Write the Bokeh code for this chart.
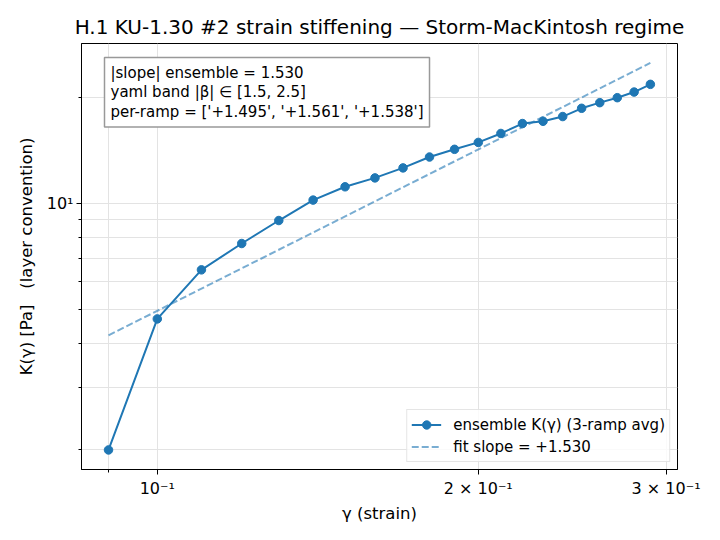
from bokeh.plotting import figure
from bokeh.models import FixedTicker, Label, Legend, LegendItem, Range1d
from bokeh.embed import file_html
from bokeh.resources import INLINE

strain = [0.09, 0.10, 0.11, 0.12, 0.13, 0.14, 0.15, 0.16, 0.17, 0.18, 0.19,
          0.20, 0.21, 0.22, 0.23, 0.24, 0.25, 0.26, 0.27, 0.28, 0.29]
K = [2.00, 4.71, 6.49, 7.71, 8.96, 10.24, 11.17, 11.84, 12.64, 13.57, 14.27,
     14.93, 15.83, 16.89, 17.14, 17.68, 18.66, 19.36, 20.00, 20.75, 21.82]
fit_x = [0.09, 0.29]
fit_y = [4.23, 25.1]

x_major = [0.1, 0.2, 0.3]
x_minor = [0.09]
x_labels = {0.1: "10⁻¹", 0.2: "2 × 10⁻¹", 0.3: "3 × 10⁻¹"}
y_major = [10]
y_minor = [2, 3, 4, 5, 6, 7, 8, 9, 20]
y_labels = {10: "10¹"}

title = "H.1 KU-1.30 #2 strain stiffening — Storm-MacKintosh regime"
note = ("|slope| ensemble = 1.530\n"
        "yaml band |β| ∈ [1.5, 2.5]\n"
        "per-ramp = ['+1.495', '+1.561', '+1.538']")

FONT = "DejaVu Sans"
BLUE = "#1f77b4"

p = figure(frame_width=596, frame_height=426,
           x_axis_type="log", y_axis_type="log",
           x_range=Range1d(0.0849, 0.3075), y_range=Range1d(1.76, 28.5),
           output_backend="svg", toolbar_location=None,
           min_border_left=81, min_border_right=27,
           min_border_top=43, min_border_bottom=55)

p.title.text = title
p.title.text_font = FONT
p.title.text_font_size = "20px"
p.title.text_font_style = "normal"
p.title.align = "center"
p.title.text_color = "black"
p.title.offset = -8

p.xaxis.ticker = FixedTicker(ticks=x_major, minor_ticks=x_minor)
p.yaxis.ticker = FixedTicker(ticks=y_major, minor_ticks=y_minor)
p.xaxis.major_label_overrides = x_labels
p.yaxis.major_label_overrides = y_labels
p.xaxis.axis_label = "γ (strain)"
p.yaxis.axis_label = "K(γ) [Pa]\u00a0\u00a0\u00a0(layer convention)"

for ax in (p.xaxis, p.yaxis):
    ax.axis_label_text_font = FONT
    ax.axis_label_text_font_size = "16.5px"
    ax.axis_label_text_font_style = "normal"
    ax.major_label_text_font = FONT
    ax.major_label_text_font_size = "16px"
    ax.major_tick_out = 5
    ax.major_tick_in = 0
    ax.minor_tick_out = 3
    ax.minor_tick_in = 0
    ax.axis_line_color = "black"
    ax.major_tick_line_color = "black"
    ax.minor_tick_line_color = "black"
    ax.axis_label_text_color = "black"
    ax.major_label_text_color = "black"
p.xaxis.axis_label_standoff = 3
p.yaxis.axis_label_standoff = 8
p.xaxis.major_label_standoff = 4
p.yaxis.major_label_standoff = 3

for g in (p.xgrid, p.ygrid):
    g.grid_line_color = "#e3e3e3"
    g.minor_grid_line_color = "#e3e3e3"

p.outline_line_color = "black"
p.outline_line_width = 1
p.outline_line_alpha = 1

r_line = p.line(strain, K, color=BLUE, line_width=2)
r_pts = p.scatter(strain, K, size=8.5, color=BLUE)
r_fit = p.line(fit_x, fit_y, color=BLUE, line_width=2, line_alpha=0.6, line_dash="7 3")

legend = Legend(items=[
    LegendItem(label="ensemble K(γ) (3-ramp avg)", renderers=[r_line, r_pts]),
    LegendItem(label="fit slope = +1.530", renderers=[r_fit]),
], location="bottom_right")
legend.label_text_font = FONT
legend.label_text_font_size = "15px"
legend.label_text_color = "black"
legend.border_line_color = "#cccccc"
legend.border_line_width = 1
legend.background_fill_alpha = 0.8
legend.margin = 7
legend.padding = 4
legend.spacing = 1
legend.glyph_width = 30
legend.label_standoff = 12
legend.label_height = 21
legend.glyph_height = 21
p.add_layout(legend)

ann = Label(x=23, y=412, x_units="screen", y_units="screen", anchor="top_left",
            text=note, text_font=FONT, text_font_size="15px",
            text_color="black", text_line_height=1.1,
            border_line_color="#999999", border_line_width=1.5,
            background_fill_color="white", background_fill_alpha=1,
            padding=6)
p.add_layout(ann)

open("out.html", "w").write(file_html(p, INLINE))
